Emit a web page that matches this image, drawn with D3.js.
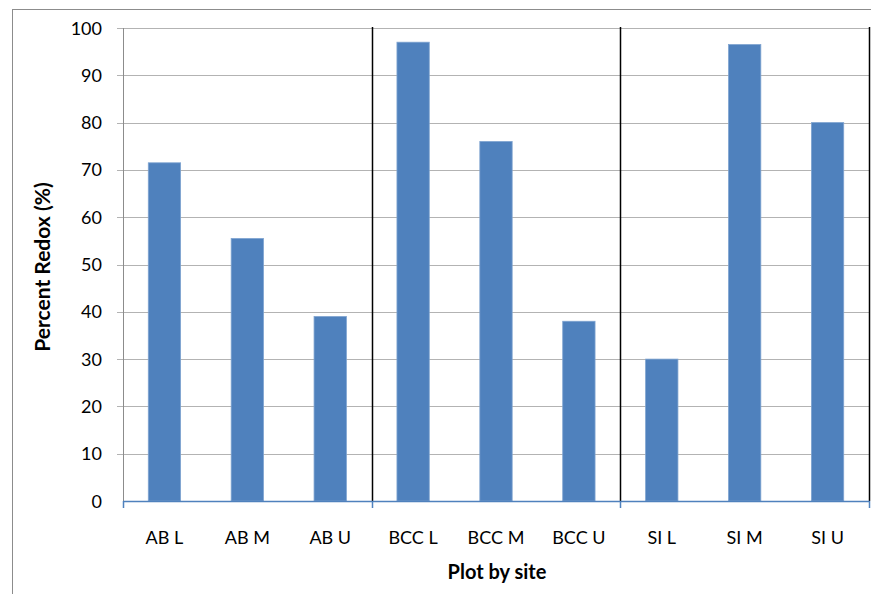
<!DOCTYPE html>
<html>
<head>
<meta charset="utf-8">
<script src="https://cdn.jsdelivr.net/npm/d3@7"></script>
<style>
  body { margin: 0; background: #fff; }
  svg text { font-family: Lato, "Open Sans", sans-serif; fill: #000; }
</style>
</head>
<body>
<svg id="chart" width="871" height="594"></svg>
<script>
// data
const categories = ['AB L', 'AB M', 'AB U', 'BCC L', 'BCC M', 'BCC U', 'SI L', 'SI M', 'SI U'];
const redox = [71.5, 55.5, 39, 97, 76, 38, 30, 96.5, 80];
const yTicks = [0, 10, 20, 30, 40, 50, 60, 70, 80, 90, 100];
const groupEnds = ['AB U', 'BCC U', 'SI U'];

const svg = d3.select('#chart');
const plot = { left: 123, right: 869, top: 28, bottom: 501 };

// outer chart border
svg.append('rect')
    .attr('x', 12.5).attr('y', 9.5)
    .attr('width', 880).attr('height', 600)
    .attr('fill', 'none').attr('stroke', '#8c8c8c').attr('stroke-width', 1);

const x = d3.scaleBand()
    .domain(categories)
    .range([plot.left, plot.right])
    .paddingInner(0.61).paddingOuter(0.305);

const y = d3.scaleLinear().domain([0, 100]).range([plot.bottom, plot.top]);

// gridlines + ticks
svg.append('g')
    .selectAll('line')
    .data(yTicks.filter(d => d > 0))
    .join('line')
    .attr('x1', plot.left - 6).attr('x2', plot.right)
    .attr('y1', d => Math.round(y(d)) + 0.5).attr('y2', d => Math.round(y(d)) + 0.5)
    .attr('stroke', '#b3b3b3').attr('stroke-width', 1);

// y tick labels
svg.append('g')
    .selectAll('text')
    .data(yTicks)
    .join('text')
    .attr('x', 102).attr('y', d => y(d) + 6.5)
    .attr('text-anchor', 'end')
    .style('font-size', '18px')
    .text(d => d);

// y axis line
svg.append('line')
    .attr('x1', plot.left + 0.5).attr('x2', plot.left + 0.5)
    .attr('y1', plot.top).attr('y2', plot.bottom)
    .attr('stroke', '#8c8c8c');

// bars
svg.append('g')
    .selectAll('rect')
    .data(categories)
    .join('rect')
    .attr('x', d => x(d))
    .attr('y', (d, i) => y(redox[i]))
    .attr('width', x.bandwidth())
    .attr('height', (d, i) => y(0) - y(redox[i]))
    .attr('fill', '#4f81bd')
    .attr('stroke', '#7ea3d0').attr('stroke-width', 0.8);

// group separators
const step = x.step();
const groupEdge = d => x(d) - x.paddingOuter() * step + step;
svg.append('g')
    .selectAll('line')
    .data(groupEnds)
    .join('line')
    .attr('x1', d => Math.round(groupEdge(d)) + 0.5)
    .attr('x2', d => Math.round(groupEdge(d)) + 0.5)
    .attr('y1', plot.top - 1).attr('y2', plot.bottom)
    .attr('stroke', '#000').attr('stroke-width', 1.5);

// x axis line and ticks (every third category)
svg.append('line')
    .attr('x1', plot.left).attr('x2', plot.right + 1)
    .attr('y1', plot.bottom + 0.5).attr('y2', plot.bottom + 0.5)
    .attr('stroke', '#4f81bd').attr('stroke-width', 1.5);

const tickXs = [plot.left].concat(groupEnds.map(groupEdge));
svg.append('g')
    .selectAll('line')
    .data(tickXs)
    .join('line')
    .attr('x1', d => Math.round(d) + 0.5).attr('x2', d => Math.round(d) + 0.5)
    .attr('y1', plot.bottom).attr('y2', plot.bottom + 7)
    .attr('stroke', '#4f81bd').attr('stroke-width', 1.5);

// x labels
svg.append('g')
    .selectAll('text')
    .data(categories)
    .join('text')
    .attr('x', d => x(d) + x.bandwidth() / 2)
    .attr('y', 544)
    .attr('text-anchor', 'middle')
    .style('font-size', '18px')
    .text(d => d);

// axis titles
svg.append('text')
    .attr('x', 497).attr('y', 579)
    .attr('text-anchor', 'middle')
    .style('font-size', '20px').style('font-weight', 'bold')
    .text('Plot by site');

svg.append('text')
    .attr('transform', 'translate(50,267) rotate(-90)')
    .attr('text-anchor', 'middle')
    .style('font-size', '21px').style('font-weight', 'bold')
    .text('Percent Redox (%)');
</script>
</body>
</html>
